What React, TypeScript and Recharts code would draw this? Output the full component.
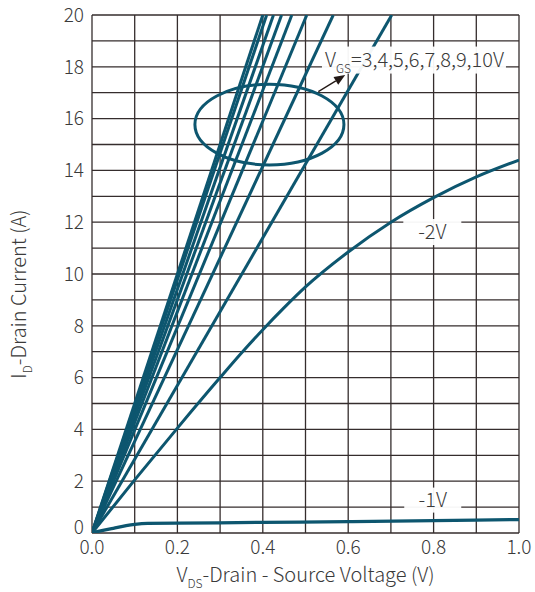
import React from 'react';
import { LineChart, Line, XAxis, YAxis, CartesianGrid, ReferenceArea, ReferenceDot, ReferenceLine, Label } from 'recharts';

// ---- data ----
const xTicks = [0, 0.1, 0.2, 0.3, 0.4, 0.5, 0.6, 0.7, 0.8, 0.9, 1.0];
const xLabelTicks = [0, 0.2, 0.4, 0.6, 0.8, 1.0];
const yTicks = [0, 1, 2, 3, 4, 5, 6, 7, 8, 9, 10, 11, 12, 13, 14, 15, 16, 17, 18, 19, 20];
const yLabelTicks = [0, 2, 4, 6, 8, 10, 12, 14, 16, 18, 20];

// VGS = 10..3 V : straight lines from origin, VDS where ID reaches 20 A
const vgsLevels = ['10V', '9V', '8V', '7V', '6V', '5V', '4V', '3V'];
const vdsAt20A = [0.4, 0.409, 0.425, 0.444, 0.468, 0.503, 0.565, 0.702];
const idTop = 20;

// VGS = -2 V
const vdsM2 = [0, 0.1, 0.2, 0.3, 0.35, 0.4, 0.45, 0.5, 0.6, 0.7, 0.8, 0.9, 1.0];
const idM2 = [0, 2.05, 4.05, 6.0, 6.95, 7.85, 8.7, 9.5, 10.85, 12.0, 12.95, 13.75, 14.4];

// VGS = -1 V
const vdsM1 = [0, 0.02, 0.05, 0.08, 0.1, 0.13, 0.2, 0.4, 0.6, 0.8, 1.0];
const idM1 = [0, 0.08, 0.18, 0.28, 0.33, 0.37, 0.38, 0.41, 0.44, 0.48, 0.52];

// annotations (data coordinates)
const ellipseBox = { x1: 0.241, x2: 0.59, y1: 14.21, y2: 17.33 };
const arrowSeg = [{ x: 0.53, y: 17.04 }, { x: 0.593, y: 17.68 }];
const vgsLabelPos = { x: 0.754, y: 18.26 };
const m2LabelPos = { x: 0.797, y: 11.62 };
const m1LabelPos = { x: 0.798, y: 1.27 };

const FONT = '"Noto Sans CJK SC", "Noto Sans", sans-serif';
const LINE = '#0d566f';
const TEXT = '#3a3a3a';
const GRID = '#352d2d';

const mkLine = (v: number) => [{ vds: 0, id: 0 }, { vds: v, id: idTop }];
const m2Data = vdsM2.map((v, i) => ({ vds: v, id: idM2[i] }));
const m1Data = vdsM1.map((v, i) => ({ vds: v, id: idM1[i] }));

const boxLabel = (w: number, h: number, text: string) => (p: any) => (
  <g>
    <rect x={p.cx - w / 2} y={p.cy - h / 2} width={w} height={h} fill="#ffffff" fillOpacity={0.95} />
    <text x={p.cx} y={p.cy} dy="0.36em" textAnchor="middle" fontSize={20} fontWeight={300} fill={TEXT} fontFamily={FONT}>
      {text}
    </text>
  </g>
);

const vgsLabel = (p: any) => (
  <g>
    <rect x={p.cx - 92} y={p.cy - 13.5} width={184} height={27} fill="#ffffff" fillOpacity={0.95} />
    <text x={p.cx - 89} y={p.cy} dy="0.36em" fontSize={20} fontWeight={300} fill={TEXT} fontFamily={FONT}>
      <tspan>V</tspan>
      <tspan fontSize={12} dy={6}>GS</tspan>
      <tspan dy={-6}>=3,4,5,6,7,8,9,10V</tspan>
    </text>
  </g>
);

const ellipseShape = (p: any) => (
  <ellipse cx={p.x + p.width / 2} cy={p.y + p.height / 2} rx={p.width / 2} ry={p.height / 2} fill="none" stroke={LINE} strokeWidth={3} />
);

const arrowShape = (p: any) => {
  const { x1, y1, x2, y2 } = p;
  const ang = Math.atan2(y2 - y1, x2 - x1);
  const L = 11, W = 4.5;
  const bx = x2 - L * Math.cos(ang), by = y2 - L * Math.sin(ang);
  const nx = -Math.sin(ang), ny = Math.cos(ang);
  return (
    <g>
      <line x1={x1} y1={y1} x2={bx} y2={by} stroke="#231815" strokeWidth={1.3} />
      <polygon points={`${x2},${y2} ${bx + nx * W},${by + ny * W} ${bx - nx * W},${by - ny * W}`} fill="#231815" />
    </g>
  );
};

const YTick = (props: any) => {
  const { x, y, payload } = props;
  if (!yLabelTicks.includes(payload.value)) return null;
  const shift = payload.value === 0 ? -6 : 0;
  return (
    <text x={x} y={y + shift} dy="0.355em" textAnchor="end" fontSize={19} fontWeight={300} fill={TEXT} fontFamily={FONT}>
      {String(payload.value)}
    </text>
  );
};

const XTitle = (props: any) => {
  const { x, y, width } = props.viewBox;
  return (
    <text x={x + width / 2} y={y + 49} textAnchor="middle" fontSize={20} fontWeight={300} fill={TEXT} fontFamily={FONT}>
      <tspan>V</tspan>
      <tspan fontSize={12} dy={6}>DS</tspan>
      <tspan dy={-6}>-Drain - Source Voltage (V)</tspan>
    </text>
  );
};

const YTitle = () => {
  const cx = 26, cy = 294;
  return (
    <text x={cx} y={cy} textAnchor="middle" transform={`rotate(-90, ${cx}, ${cy})`} fontSize={20} fontWeight={300} fill={TEXT} fontFamily={FONT}>
      <tspan>I</tspan>
      <tspan fontSize={12} dy={6}>D</tspan>
      <tspan dy={-6}>-Drain Current (A)</tspan>
    </text>
  );
};

export default function App() {
  return (
    <div style={{ position: 'absolute', left: 0, top: 0, width: 535, height: 592, background: '#fff' }}>
      <LineChart width={535} height={592} margin={{ top: 15, right: 16, left: 0, bottom: 0 }} style={{ fontFamily: FONT }}>
        <CartesianGrid stroke={GRID} strokeWidth={1.3} />
        <XAxis
          dataKey="vds"
          type="number"
          domain={[0, 1]}
          ticks={xTicks}
          interval={0}
          height={59}
          tickLine={false}
          axisLine={false}
          allowDataOverflow
          tickFormatter={(v: number) => (xLabelTicks.includes(v) ? v.toFixed(1) : '')}
          tick={{ fontSize: 19, fill: TEXT, fontFamily: FONT, fontWeight: 300 }}
        >
          <Label content={XTitle} />
        </XAxis>
        <YAxis
          dataKey="id"
          type="number"
          domain={[0, 20]}
          ticks={yTicks}
          interval={0}
          width={92}
          tickLine={false}
          axisLine={false}
          allowDataOverflow
          tick={<YTick />}
        >
          <Label content={YTitle} />
        </YAxis>
        {vgsLevels.map((name, i) => (
          <Line
            key={name}
            name={name}
            data={mkLine(vdsAt20A[i])}
            dataKey="id"
            type="linear"
            stroke={LINE}
            strokeWidth={3}
            dot={false}
            isAnimationActive={false}
          />
        ))}
        <Line name="-2V" data={m2Data} dataKey="id" type="monotone" stroke={LINE} strokeWidth={3} dot={false} isAnimationActive={false} />
        <Line name="-1V" data={m1Data} dataKey="id" type="monotone" stroke={LINE} strokeWidth={3.3} dot={false} isAnimationActive={false} />
        <ReferenceArea x1={ellipseBox.x1} x2={ellipseBox.x2} y1={ellipseBox.y1} y2={ellipseBox.y2} shape={ellipseShape} />
        <ReferenceLine segment={arrowSeg} shape={arrowShape} />
        <ReferenceDot x={vgsLabelPos.x} y={vgsLabelPos.y} shape={vgsLabel} />
        <ReferenceDot x={m2LabelPos.x} y={m2LabelPos.y} shape={boxLabel(58, 26, '-2V')} />
        <ReferenceDot x={m1LabelPos.x} y={m1LabelPos.y} shape={boxLabel(57, 25, '-1V')} />
      </LineChart>
    </div>
  );
}
